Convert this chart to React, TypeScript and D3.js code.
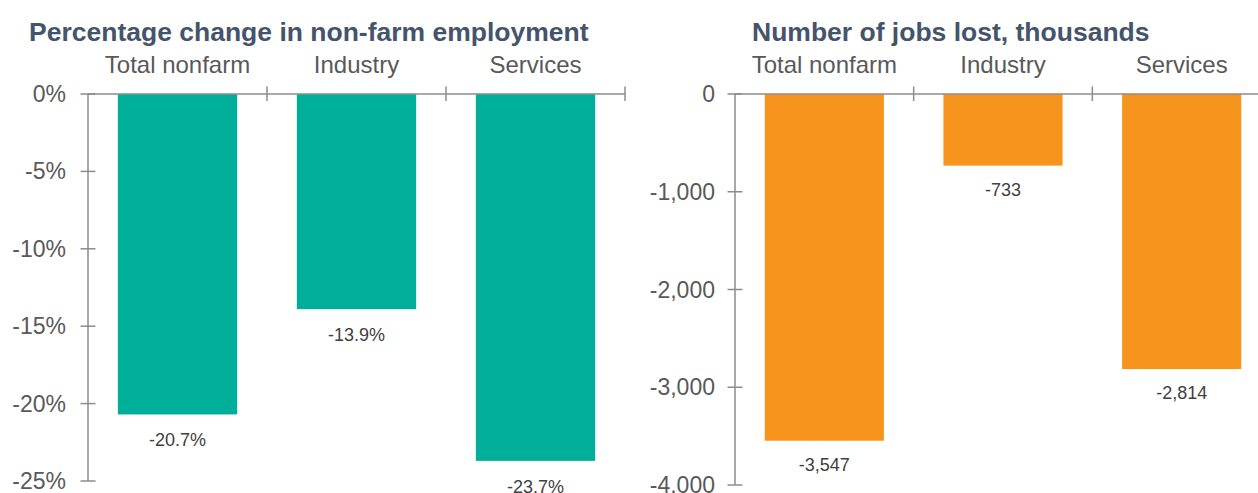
import React from "react";
import * as d3 from "d3";

const categories = ["Total nonfarm", "Industry", "Services"];
const pctChange = [-20.7, -13.9, -23.7];
const jobsLost = [-3547, -733, -2814];
const pctTicks = [0, -5, -10, -15, -20, -25];
const jobsTicks = [0, -1000, -2000, -3000, -4000];

const W = 1258;
const H = 493;
const FONT = "'Liberation Sans', Arial, sans-serif";
const AXIS = "#8c8c8c";

type PanelProps = {
  title: string;
  titleX: number;
  x0: number;
  x1: number;
  yBottom: number;
  values: number[];
  ticks: number[];
  domainMin: number;
  color: string;
  tickFmt: (v: number) => string;
  labelFmt: (v: number) => string;
  tickLabelRight: number;
  labelOffset: number;
};

function Panel(p: PanelProps) {
  const y = d3.scaleLinear().domain([0, p.domainMin]).range([94, p.yBottom]);
  const x = d3.scaleBand<string>().domain(categories).range([p.x0, p.x1]).paddingInner(1 / 3).paddingOuter(1 / 6);
  const step = x.step();
  const bandEdges = categories.map((_, i) => p.x0 + step * (i + 1));
  return (
    <g>
      <text x={p.titleX} y={41} fontFamily={FONT} fontWeight="bold" fontSize={26.5} fill="#44546A">
        {p.title}
      </text>
      {categories.map((c) => (
        <text key={c} x={(x(c) as number) + x.bandwidth() / 2} y={73} textAnchor="middle" fontFamily={FONT} fontSize={24} fill="#595959">
          {c}
        </text>
      ))}
      {categories.map((c, i) => {
        const v = p.values[i];
        return <rect key={c} x={x(c)} y={y(0)} width={x.bandwidth()} height={y(v) - y(0)} fill={p.color} />;
      })}
      {categories.map((c, i) => {
        const v = p.values[i];
        return (
          <text key={c} x={(x(c) as number) + x.bandwidth() / 2} y={y(v) + p.labelOffset} textAnchor="middle" fontFamily={FONT} fontSize={18} fill="#404040">
            {p.labelFmt(v)}
          </text>
        );
      })}
      <line x1={p.x0} x2={p.x0} y1={y(0)} y2={y(p.domainMin)} stroke={AXIS} strokeWidth={1.5} />
      {p.ticks.map((t) => (
        <g key={t}>
          <line x1={p.x0 - 7.5} x2={p.x0 + 7.5} y1={y(t)} y2={y(t)} stroke={AXIS} strokeWidth={1.5} />
          <text x={p.tickLabelRight} y={y(t) + 8} textAnchor="end" fontFamily={FONT} fontSize={23} fill="#595959">
            {p.tickFmt(t)}
          </text>
        </g>
      ))}
      <line x1={p.x0} x2={p.x1} y1={y(0)} y2={y(0)} stroke={AXIS} strokeWidth={1.5} />
      {bandEdges.map((bx, i) => (
        <line key={i} x1={bx} x2={bx} y1={y(0) - 7.5} y2={y(0) + 7} stroke={AXIS} strokeWidth={1.5} />
      ))}
    </g>
  );
}

export default function App() {
  const fmtComma = d3.format(",");
  return (
    <>
      <style>{`body{margin:0}`}</style>
      <svg width={W} height={H} style={{ display: "block", background: "#fff" }}>
        <Panel
          title="Percentage change in non-farm employment"
          titleX={29}
          x0={88}
          x1={625}
          yBottom={481}
          values={pctChange}
          ticks={pctTicks}
          domainMin={-25}
          color="#00AF9A"
          tickFmt={(v) => `${v}%`}
          labelFmt={(v) => `${v.toFixed(1)}%`}
          tickLabelRight={66}
          labelOffset={32}
        />
        <Panel
          title="Number of jobs lost, thousands"
          titleX={752}
          x0={735}
          x1={1271}
          yBottom={485}
          values={jobsLost}
          ticks={jobsTicks}
          domainMin={-4000}
          color="#F7941D"
          tickFmt={(v) => fmtComma(v).replace("−", "-")}
          labelFmt={(v) => fmtComma(v).replace("−", "-")}
          tickLabelRight={715}
          labelOffset={30}
        />
      </svg>
    </>
  );
}
